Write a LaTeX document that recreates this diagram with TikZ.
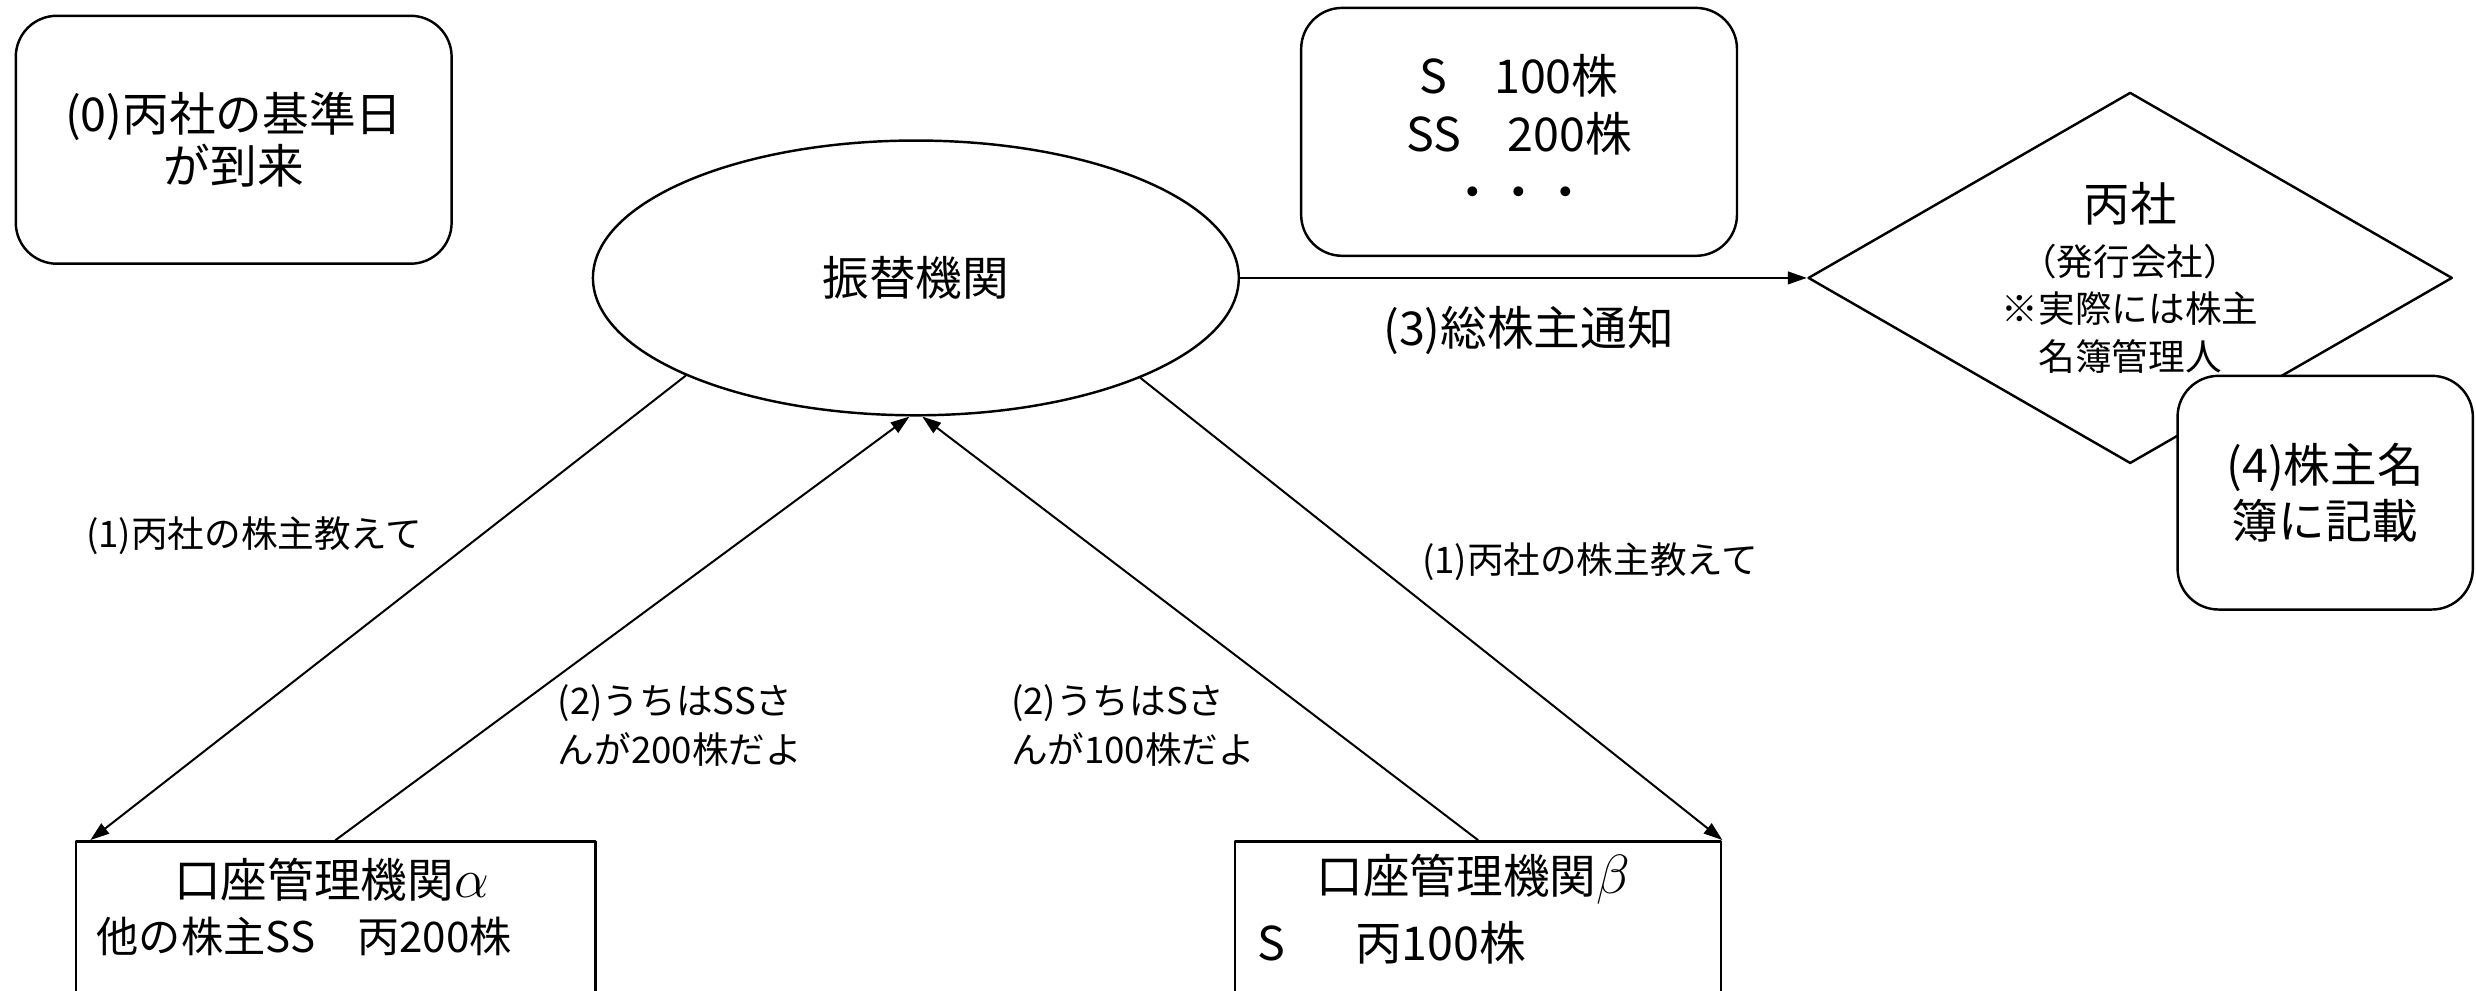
\documentclass[tikz,border=0pt]{standalone}
\usepackage{fontspec}
\setmainfont{Noto Sans CJK JP}
\usetikzlibrary{shapes.geometric, arrows.meta}

\begin{document}
\begin{tikzpicture}[x=0.25mm, y=-0.25mm,
                line cap=round, line join=round,
                every node/.style={inner sep=0pt, font=\fontsize{21}{26}\selectfont},
                rbox/.style={draw, line width=1.1pt, rounded corners=6.5mm, align=center,
                             minimum width=69mm, minimum height=39.25mm},
                acct/.style={draw, line width=1.1pt, anchor=north, minimum height=40mm},
                msg/.style={font=\fontsize{16.5}{22}\selectfont, align=left},
                flow/.style={line width=0.9pt, -{Triangle[length=3mm, width=2mm]}}]
                \def\W{1568}
                \def\H{627}
                \def\greek#1{{\fontsize{26}{26}\selectfont$#1$}} % larger alpha/beta

                % page
                \path[fill=white, use as bounding box] (0,0) rectangle (\W,\H);

                % boxes at the top
                \node[rbox, font=\fontsize{21}{23.5}\selectfont] (kijunbi) at (148,88.5)
                    {(0)丙社の基準日\\が到来};
                \node[rbox, font=\fontsize{21}{26.3}\selectfont] (tally) at (962,83.5)
                    {S　100株\\SS　200株\\・・・};

                % transfer agent and issuer
                \node[draw, ellipse, line width=1.1pt, minimum width=102.25mm,
                      minimum height=43.5mm] (furikae) at (580,176) {振替機関};
                \node[draw, diamond, shape aspect=1.74, line width=1.1pt, align=center,
                      minimum width=102mm, minimum height=58.75mm,
                      font=\fontsize{16.5}{21.3}\selectfont] (heisha) at (1349,176)
                    {{\fontsize{21}{21}\selectfont 丙社}\\[3pt]（発行会社）\\※実際には株主\\名簿管理人};
                \node[rbox, fill=white, minimum width=46.75mm, minimum height=37mm,
                      font=\fontsize{21}{25.6}\selectfont] (record) at (1472.5,312)
                    {(4)株主名\\簿に記載};

                % account institutions (cut off at the bottom)
                \node[acct, minimum width=82.25mm] (alpha) at (212.5,532) {};
                \node (alphaname) at (210,557) {口座管理機関\greek{\alpha}};
                \node[anchor=west, font=\fontsize{19}{24}\selectfont] (alphahold) at (61,593)
                    {他の株主SS　丙200株};
                \node[acct, minimum width=77mm] (beta) at (936,532) {};
                \node (betaname) at (933,557) {口座管理機関\greek{\beta}};
                \node[anchor=west] (betahold) at (796,597) {S\hspace{1.5em}丙100株};

                % requests and replies
                \draw[flow] (furikae.203.5) -- ([xshift=2.5mm]alpha.north west);
                \draw[flow] (alpha.north) -- ([xshift=-1mm]furikae.south);
                \draw[flow] (beta.north) -- ([xshift=1mm]furikae.south);
                \draw[flow] (furikae.336.3) -- (beta.north east);
                \draw[flow] (furikae.east) -- (heisha.west);

                % labels
                \node[msg] (askleft) at (161,339) {(1)丙社の株主教えて};
                \node[msg, anchor=west] (replyss) at (353,459.5) {(2)うちはSSさ\\んが200株だよ};
                \node[msg, anchor=west] (replys) at (640,459.5) {(2)うちはSさ\\んが100株だよ};
                \node[msg] (askright) at (1007,356) {(1)丙社の株主教えて};
                \node (notice) at (968,209) {(3)総株主通知};

            \end{tikzpicture}
\end{document}
